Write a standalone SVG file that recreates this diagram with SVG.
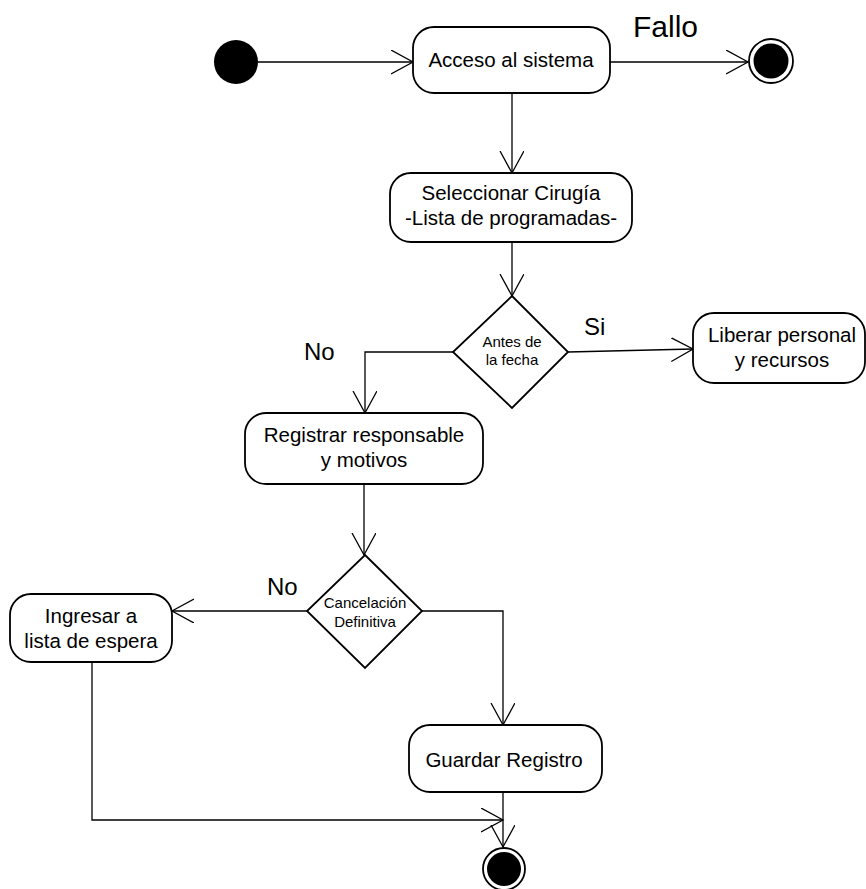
<svg xmlns="http://www.w3.org/2000/svg" width="866" height="889" viewBox="0 0 866 889">
<style>
.box{fill:#fff;stroke:#000;stroke-width:1.8}
.t{font-family:"Liberation Sans",Arial,sans-serif;font-size:20.5px;fill:#000;text-anchor:middle}
.s{font-family:"Liberation Sans",Arial,sans-serif;font-size:15px;fill:#000;text-anchor:middle}
.lbl{font-family:"Liberation Sans",Arial,sans-serif;font-size:24px;fill:#000}
.c{fill:none;stroke:#000;stroke-width:1.3}
</style>
<defs>
<marker id="a" markerWidth="24" markerHeight="26" refX="22" refY="12" orient="auto" markerUnits="userSpaceOnUse">
<path d="M0,0 L22,12 L0,24" fill="none" stroke="#000" stroke-width="1.3"/>
</marker>
</defs>
<rect width="866" height="889" fill="#fff"/>
<g id="connectors">
<path class="c" d="M258,62 H413" marker-end="url(#a)"/>
<path class="c" d="M610,62 H748" marker-end="url(#a)"/>
<path class="c" d="M512,93 V173" marker-end="url(#a)"/>
<path class="c" d="M512,242 V296" marker-end="url(#a)"/>
<path class="c" d="M568,352 L693,349" marker-end="url(#a)"/>
<path class="c" d="M453,352 H365 V413" marker-end="url(#a)"/>
<path class="c" d="M364,484 V555" marker-end="url(#a)"/>
<path class="c" d="M307,611 H172" marker-end="url(#a)"/>
<path class="c" d="M422,611 H503 V725" marker-end="url(#a)"/>
<path class="c" d="M503,792 V847" marker-end="url(#a)"/>
<path class="c" d="M92,662 V820 H503" marker-end="url(#a)"/>
</g>
<g id="start"><circle cx="236" cy="62" r="22" fill="#000"/></g>
<g id="acceso"><rect class="box" x="413" y="27" width="197" height="66" rx="21"/><text class="t" x="511" y="67">Acceso al sistema</text></g>
<g id="fallo-label"><text class="lbl" x="633" y="37" style="font-size:30px">Fallo</text></g>
<g id="end1"><circle cx="771" cy="61" r="22" fill="#fff" stroke="#000" stroke-width="1.8"/><circle cx="771" cy="61" r="17.5" fill="#000"/></g>
<g id="seleccionar"><rect class="box" x="390" y="173" width="242" height="69" rx="21"/><text class="t" x="511" y="200">Seleccionar Cirugía</text><text class="t" x="511" y="225">-Lista de programadas-</text></g>
<g id="d1"><polygon class="box" points="512,296 568,352 512,408 453,352"/><text class="s" x="512" y="347">Antes de</text><text class="s" x="512" y="365">la fecha</text></g>
<g id="si-label"><text class="lbl" x="584" y="335">Si</text></g>
<g id="liberar"><rect class="box" x="693" y="313" width="172" height="70" rx="21"/><text class="t" x="782" y="342">Liberar personal</text><text class="t" x="782" y="367">y recursos</text></g>
<g id="no1-label"><text class="lbl" x="304" y="360">No</text></g>
<g id="registrar"><rect class="box" x="245" y="413" width="238" height="71" rx="21"/><text class="t" x="364" y="442">Registrar responsable</text><text class="t" x="364" y="467">y motivos</text></g>
<g id="d2"><polygon class="box" points="365,555 422,611 365,668 307,611"/><text class="s" x="365" y="608">Cancelación</text><text class="s" x="365" y="627">Definitiva</text></g>
<g id="no2-label"><text class="lbl" x="267" y="595">No</text></g>
<g id="ingresar"><rect class="box" x="10" y="594" width="162" height="68" rx="21"/><text class="t" x="91" y="623">Ingresar a</text><text class="t" x="91" y="648">lista de espera</text></g>
<g id="guardar"><rect class="box" x="409" y="725" width="193" height="67" rx="21"/><text class="t" x="504" y="767">Guardar Registro</text></g>
<g id="end2"><circle cx="504" cy="869" r="21" fill="#fff" stroke="#000" stroke-width="1.8"/><circle cx="504" cy="869" r="17" fill="#000"/></g>
</svg>
